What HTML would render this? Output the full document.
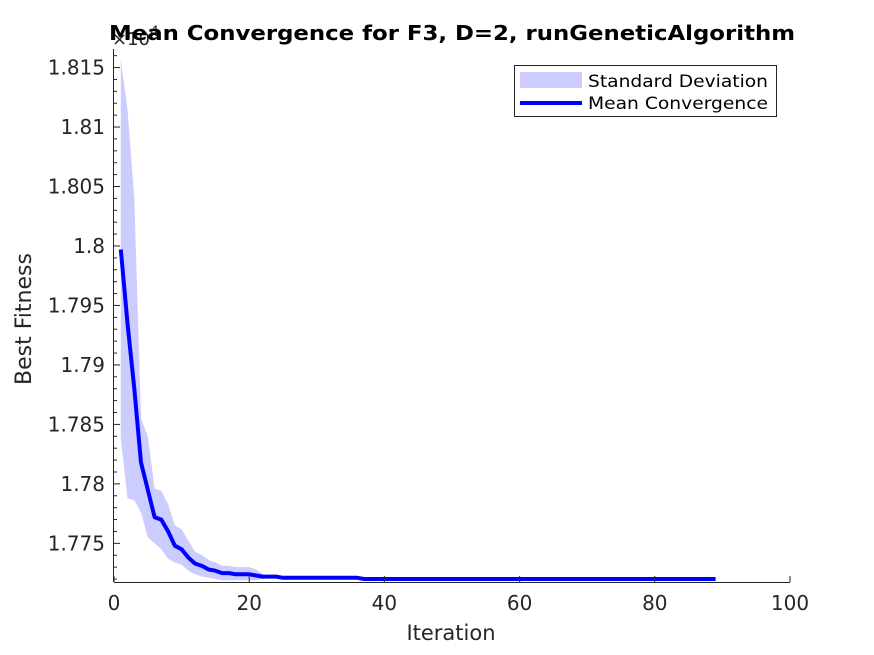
<!DOCTYPE html>
<html><head><meta charset="utf-8"><style>
html,body{margin:0;padding:0;background:#fff;}
svg{display:block;font-family:"DejaVu Sans","Liberation Sans",sans-serif;}
</style></head><body>
<svg id="chart" width="874" height="655" viewBox="0 0 874 655">
<rect x="0" y="0" width="874" height="655" fill="#fff"/>
<g id="band"></g>
<g id="line"></g>
<g id="axes"></g>
<text x="112" y="45" font-size="18" fill="#262626">×10<tspan dy="-9" font-size="14">4</tspan></text>
<text x="452" y="40" text-anchor="middle" font-size="20" font-weight="bold" fill="#000" textLength="686" lengthAdjust="spacingAndGlyphs">Mean Convergence for F3, D=2, runGeneticAlgorithm</text>
<text x="451" y="640" text-anchor="middle" font-size="21" fill="#262626">Iteration</text>
<text transform="translate(31,319) rotate(-90)" text-anchor="middle" font-size="22" fill="#262626">Best Fitness</text>
<g>
<rect x="514.5" y="65.5" width="262" height="51" fill="#fff" stroke="#262626" stroke-width="1"/>
<rect x="520" y="72" width="62" height="16" fill="#ccccff"/>
<text x="588" y="87" font-size="17" fill="#000" textLength="180" lengthAdjust="spacingAndGlyphs">Standard Deviation</text>
<line x1="520" y1="103" x2="582" y2="103" stroke="#0000ff" stroke-width="4"/>
<text x="588" y="109" font-size="17" fill="#000" textLength="180" lengthAdjust="spacingAndGlyphs">Mean Convergence</text>
</g>
</svg>
<script>
const iterations = Array.from({length:89},(_,i)=>i+1);
const meanVals = [1.7997,1.7935,1.7880,1.7818,1.7795,1.7772,1.7770,1.7760,1.7748,1.7745,1.7738,1.7733,1.7731,1.7728,1.7727,1.7725,1.7725,1.7724,1.7724,1.7724,1.7723,1.7722,1.7722,1.7722,1.7721,1.7721,1.7721,1.7721,1.7721,1.7721,1.7721,1.7721,1.7721,1.7721,1.7721,1.7721,1.7720,1.7720,1.7720,1.7720,1.7720,1.7720,1.7720,1.7720,1.7720,1.7720,1.7720,1.7720,1.7720,1.7720,1.7720,1.7720,1.7720,1.7720,1.7720,1.7720,1.7720,1.7720,1.7720,1.7720,1.7720,1.7720,1.7720,1.7720,1.7720,1.7720,1.7720,1.7720,1.7720,1.7720,1.7720,1.7720,1.7720,1.7720,1.7720,1.7720,1.7720,1.7720,1.7720,1.7720,1.7720,1.7720,1.7720,1.7720,1.7720,1.7720,1.7720,1.7720,1.7720];
const upperVals = [1.8157,1.8115,1.8040,1.7855,1.7840,1.7796,1.7794,1.7783,1.7765,1.7762,1.7752,1.7743,1.7740,1.7736,1.7734,1.7731,1.7731,1.7730,1.7730,1.7730,1.7728,1.7724,1.7723,1.7723,1.7722,1.7722,1.7722,1.7722,1.7722,1.7722,1.7722,1.7722,1.7722,1.7722,1.7722,1.7722,1.7721];
const lowerVals = [1.7838,1.7788,1.7786,1.7776,1.7755,1.7750,1.7745,1.7737,1.7734,1.7732,1.7727,1.7724,1.7722,1.7721,1.7720,1.7719,1.7719,1.7719,1.7719,1.7719,1.7719,1.7720,1.7721,1.7721,1.7720,1.7720,1.7720,1.7720,1.7720,1.7720,1.7720,1.7720,1.7720,1.7720,1.7720,1.7720,1.7719];
const xTicks = [0,20,40,60,80,100];
const yTicks = [1.775,1.78,1.785,1.79,1.795,1.8,1.805,1.81,1.815];
const yTickLabels = ["1.775","1.78","1.785","1.79","1.795","1.8","1.805","1.81","1.815"];

const NS="http://www.w3.org/2000/svg";
const L=114,R=790,T=49,B=582,ymin=1.77175,ymax=1.81656;
const xs=v=>L+(v/100)*(R-L);
const ys=v=>B-(v-ymin)/(ymax-ymin)*(B-T);
function mk(tag,attrs,parent){const e=document.createElementNS(NS,tag);for(const k in attrs)e.setAttribute(k,attrs[k]);parent.appendChild(e);return e;}

const band=document.getElementById('band');
const n=iterations.length;
const up=i=>i<upperVals.length?upperVals[i]:meanVals[i]+0.00005;
const lo=i=>i<lowerVals.length?lowerVals[i]:meanVals[i]-0.00005;
let pts=[];
for(let i=0;i<n;i++)pts.push(xs(iterations[i]).toFixed(1)+','+ys(up(i)).toFixed(1));
for(let i=n-1;i>=0;i--)pts.push(xs(iterations[i]).toFixed(1)+','+ys(lo(i)).toFixed(1));
const poly=mk('polygon',{points:pts.join(' '),fill:'#ccccff',stroke:'none'},band);



const lineG=document.getElementById('line');
const lp=iterations.map((it,i)=>xs(it).toFixed(1)+','+ys(meanVals[i]).toFixed(1)).join(' ');
const pl=mk('polyline',{points:lp,fill:'none',stroke:'#0000ff','stroke-width':4,'stroke-linejoin':'round'},lineG);



const ax=document.getElementById('axes');
mk('line',{x1:L,y1:B+0.5,x2:R,y2:B+0.5,stroke:'#262626','stroke-width':1},ax);
mk('line',{x1:L-0.5,y1:T,x2:L-0.5,y2:B,stroke:'#262626','stroke-width':1},ax);
xTicks.forEach(t=>{
  mk('line',{x1:xs(t),y1:B,x2:xs(t),y2:B-6,stroke:'#262626','stroke-width':1},ax);
  const tx=mk('text',{x:xs(t),y:B+28,'text-anchor':'middle','font-size':20,fill:'#262626'},ax);
  tx.textContent=t;
  
  
});
for(let k=0;k<=45;k++){
  const v=1.772+k*0.001;
  if(v>ymax)break;
  const major=yTicks.some(t=>Math.abs(t-v)<1e-7);
  mk('line',{x1:L,y1:ys(v),x2:L+(major?6:3),y2:ys(v),stroke:'#262626','stroke-width':1},ax);
}
yTicks.forEach((t,i)=>{
  const tx=mk('text',{x:L-9,y:ys(t)+7,'text-anchor':'end','font-size':20,fill:'#262626'},ax);
  tx.textContent=yTickLabels[i];
  
  
});
</script>
</body></html>
